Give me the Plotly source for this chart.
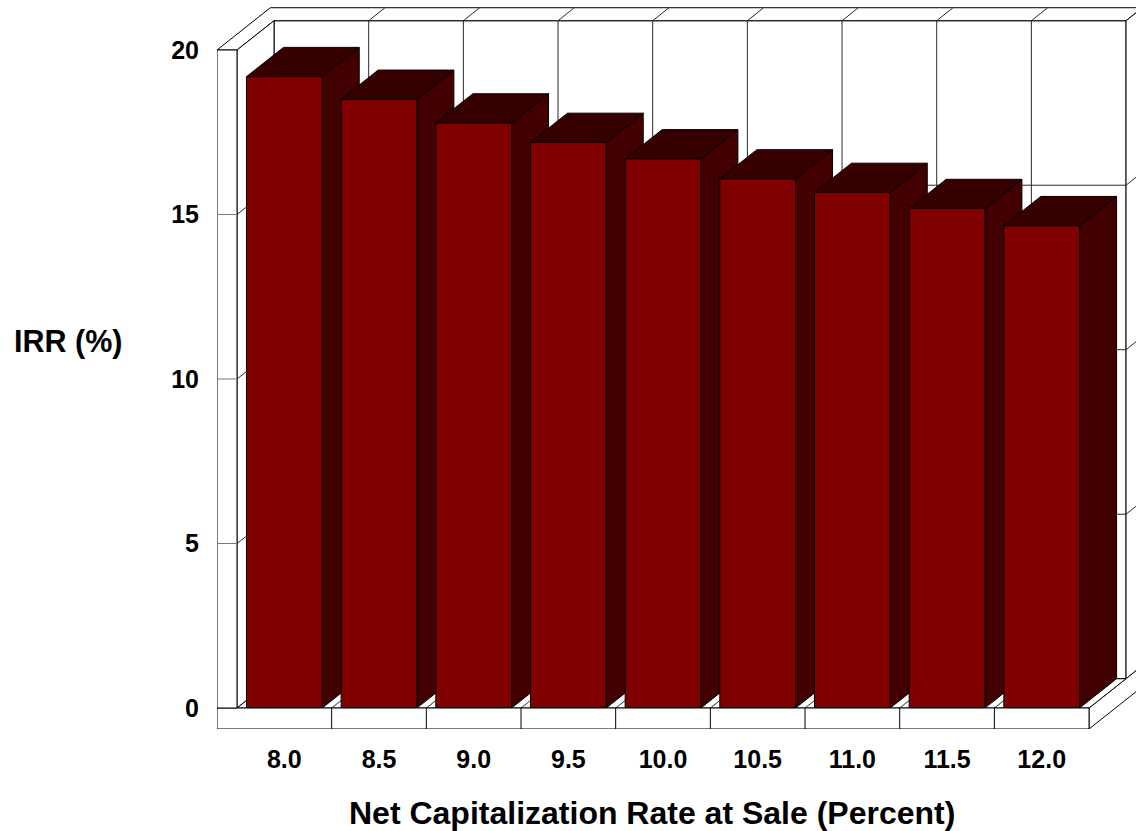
import plotly.graph_objects as go

# ---- data ----
categories = ["8.0", "8.5", "9.0", "9.5", "10.0", "10.5", "11.0", "11.5", "12.0"]
irr = [19.19, 18.50, 17.78, 17.19, 16.69, 16.08, 15.67, 15.18, 14.66]
y_ticks = [0, 5, 10, 15, 20]

# ---- pseudo-3D geometry (data units) ----
DX, DY = 0.391, 0.89        # depth offset of the back plane
BX, BY = 0.172, 0.395       # back wall thickness
LW = 0.211                  # left wall thickness
FT = 0.638                  # floor thickness
BW = 0.4                    # half bar width
YMAX = 20
n = len(categories)
XL, XR = -0.5, n - 0.5

FRONT = "#800000"
SIDE = "#420000"
TOP = "#360000"
EDGE = "black"
GRID = "#2a2a2a"

fig = go.Figure()


def poly(xs, ys, fill, lw=1, lc=EDGE):
    fig.add_trace(go.Scatter(x=list(xs) + [xs[0]], y=list(ys) + [ys[0]], mode="lines",
                             fill="toself", fillcolor=fill,
                             line=dict(color=lc, width=lw), hoverinfo="skip", showlegend=False))


def segs(pairs, color=GRID, lw=1):
    xs, ys = [], []
    for (x0, y0), (x1, y1) in pairs:
        xs += [x0, x1, None]
        ys += [y0, y1, None]
    fig.add_trace(go.Scatter(x=xs, y=ys, mode="lines", line=dict(color=color, width=lw),
                             hoverinfo="skip", showlegend=False))


bounds = [i + 0.5 for i in range(n - 1)]
inner_ticks = [t for t in y_ticks if 0 < t < YMAX]

# back wall face
poly([XL + DX, XR + DX, XR + DX, XL + DX], [DY, DY, YMAX + DY, YMAX + DY], "white")
segs([((XL + DX, t + DY), (XR + DX, t + DY)) for t in inner_ticks] +
     [((b + DX, DY), (b + DX, YMAX + DY)) for b in bounds])
# top of left wall + back wall
poly([XL - LW, XL, XL + DX, XR + DX, XR + DX + BX, XL - LW + DX + BX],
     [YMAX, YMAX, YMAX + DY, YMAX + DY, YMAX + DY + BY, YMAX + DY + BY], "white")
segs([((b + DX, YMAX + DY), (b + DX + BX, YMAX + DY + BY)) for b in bounds])
# right end of back wall
poly([XR + DX, XR + DX + BX, XR + DX + BX, XR + DX],
     [DY, DY + BY, YMAX + DY + BY, YMAX + DY], "white")
segs([((XR + DX, t + DY), (XR + DX + BX, t + DY + BY)) for t in inner_ticks])
# floor right side
poly([XR, XR + DX + BX, XR + DX + BX, XR], [0, DY + BY, -FT + DY + BY, -FT], "white")
# left wall inner face
poly([XL, XL, XL + DX, XL + DX], [0, YMAX, YMAX + DY, DY], "white")
segs([((XL, t), (XL + DX, t + DY)) for t in inner_ticks])
# floor top
poly([XL, XR, XR + DX, XL + DX], [0, 0, DY, DY], "white")
segs([((b, 0), (b + DX, DY)) for b in bounds])

# bars
for i, v in enumerate(irr):
    x0, x1 = i - BW, i + BW
    poly([x1, x1 + DX, x1 + DX, x1], [0, DY, v + DY, v], SIDE)
    poly([x0, x1, x1 + DX, x0 + DX], [v, v, v + DY, v + DY], TOP)
    poly([x0, x1, x1, x0], [0, 0, v, v], FRONT)

# front faces of floor and left wall
poly([XL - LW, XR, XR, XL - LW], [-FT, -FT, 0, 0], "white")
segs([((b, -FT), (b, 0)) for b in bounds], color=EDGE)
poly([XL - LW, XL, XL, XL - LW], [0, 0, YMAX, YMAX], "white")
segs([((XL - LW, t), (XL, t)) for t in inner_ticks], color="#777777")

font_main = "Liberation Sans, Arial, sans-serif"
fig.update_layout(
    width=1136, height=831,
    margin=dict(l=217, r=0, t=0, b=102),
    paper_bgcolor="white", plot_bgcolor="white",
    showlegend=False,
    xaxis=dict(range=[-0.7113, 8.9961], showgrid=False, zeroline=False, showline=False,
               tickmode="array", tickvals=list(range(n)), ticktext=categories,
               ticks="", ticklabelstandoff=13,
               tickfont=dict(family=font_main, size=25, color="black", weight="bold")),
    yaxis=dict(range=[-0.6383, 21.520], showgrid=False, zeroline=False, showline=False,
               tickmode="array", tickvals=y_ticks, ticktext=[str(t) for t in y_ticks],
               ticks="", ticklabelstandoff=17,
               tickfont=dict(family=font_main, size=25, color="black", weight="bold")),
    annotations=[
        dict(text="<b>IRR (%)</b>", xref="paper", yref="paper", x=-217 / 919 + 12 / 919,
             xanchor="left", y=1 - 341 / 729, yanchor="middle", showarrow=False,
             font=dict(family=font_main, size=30.5, color="black")),
        dict(text="<b>Net Capitalization Rate at Sale (Percent)</b>", xref="paper", yref="paper",
             x=(652 - 217) / 919, xanchor="center", y=-(813 - 729) / 729, yanchor="middle",
             showarrow=False, font=dict(family=font_main, size=32, color="black")),
    ],
)

fig.write_html("out.html", config={"displayModeBar": False},
               post_script="document.body.style.margin='0';")
